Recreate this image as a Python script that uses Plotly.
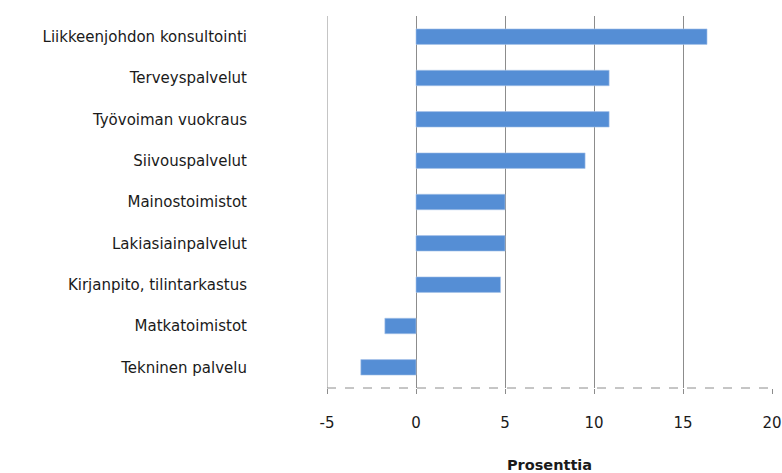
import plotly.graph_objects as go

categories = ["Liikkeenjohdon konsultointi", "Terveyspalvelut", "Työvoiman vuokraus",
              "Siivouspalvelut", "Mainostoimistot", "Lakiasiainpalvelut",
              "Kirjanpito, tilintarkastus", "Matkatoimistot", "Tekninen palvelu"]
values = [16.35, 10.85, 10.85, 9.5, 5.0, 5.0, 4.75, -1.75, -3.1]
x_ticks = [-5, 0, 5, 10, 15, 20]

fig = go.Figure(go.Bar(
    y=categories, x=values, orientation="h",
    marker=dict(color="#558ed5", line=dict(color="#a9c4ea", width=0.6)),
    width=0.375,
))

fig.update_layout(
    width=782, height=473,
    margin=dict(l=327, r=10, t=16, b=85),
    paper_bgcolor="white", plot_bgcolor="white",
    showlegend=False,
    font=dict(family="DejaVu Sans, sans-serif", size=15, color="#1a1a1a"),
    xaxis=dict(
        range=[-5, 20], tickvals=x_ticks, ticktext=[str(t) for t in x_ticks],
        showgrid=True, gridcolor="#8c8c8c", gridwidth=1,
        zeroline=True, zerolinecolor="#8c8c8c", zerolinewidth=1,
        showline=False, ticks="outside", ticklen=5, tickcolor="#8c8c8c",
        tickfont=dict(size=15), ticklabelstandoff=16, automargin=False,
        title=dict(text="<b>Prosenttia</b>", font=dict(size=14.5), standoff=28),
    ),
    yaxis=dict(
        autorange="reversed", showgrid=False, zeroline=False, showline=False,
        ticks="", tickfont=dict(size=15), ticklabelstandoff=79, automargin=False,
    ),
)

# left boundary gridline at -5 and dashed bottom axis line
fig.add_shape(type="line", xref="x", yref="paper", x0=-5, x1=-5, y0=0, y1=1,
              line=dict(color="#8c8c8c", width=1))
fig.add_shape(type="line", xref="paper", yref="paper", x0=0, x1=1, y0=0, y1=0,
              line=dict(color="#8c8c8c", width=1, dash="dash"))

fig.write_html("out.html", config={"displayModeBar": False},
               post_script="document.body.style.margin='0';")
